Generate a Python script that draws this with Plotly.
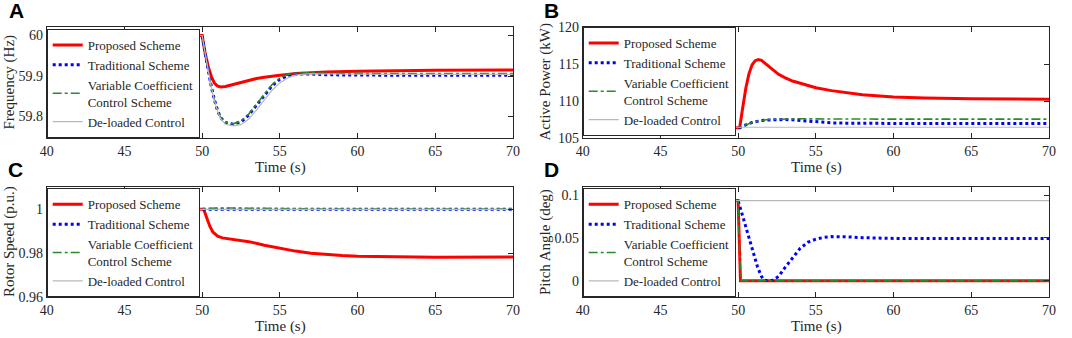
import plotly.graph_objects as go

# ---------------- data ----------------
names = ["Proposed Scheme", "Traditional Scheme", "Variable Coefficient<br>Control Scheme", "De-loaded Control"]

# Panel A: Frequency (Hz)
tA = [40, 50, 50.2, 50.4, 50.6, 50.8, 51, 51.2, 51.5, 52, 52.5, 53, 53.5, 54, 54.5, 55, 55.5, 56, 57, 58, 60, 62, 65, 70]
fA_prop = [60, 60, 59.955, 59.922, 59.898, 59.882, 59.875, 59.873, 59.874, 59.879, 59.885, 59.890, 59.894, 59.897, 59.900, 59.902, 59.904, 59.906, 59.908, 59.910, 59.912, 59.913, 59.914, 59.915]
fA_trad = [60, 60, 59.955, 59.912, 59.872, 59.840, 59.814, 59.797, 59.785, 59.781, 59.787, 59.804, 59.828, 59.854, 59.876, 59.892, 59.901, 59.905, 59.905, 59.903, 59.902, 59.902, 59.902, 59.902]
fA_vcc = [60, 60, 59.955, 59.912, 59.872, 59.840, 59.814, 59.797, 59.785, 59.782, 59.789, 59.806, 59.831, 59.857, 59.879, 59.895, 59.904, 59.907, 59.908, 59.907, 59.906, 59.906, 59.906, 59.906]
fA_del = [60, 60, 59.955, 59.911, 59.870, 59.838, 59.812, 59.794, 59.781, 59.777, 59.780, 59.794, 59.816, 59.841, 59.865, 59.883, 59.895, 59.902, 59.906, 59.905, 59.904, 59.904, 59.904, 59.904]

# Panel B: Active Power (kW)
tB = [40, 50.1, 50.3, 50.5, 50.7, 50.9, 51.1, 51.3, 51.5, 51.8, 52.2, 52.6, 53, 53.5, 54, 55, 56, 57, 58, 60, 62, 65, 70]
pB_prop = [106.4, 106.4, 109.2, 111.8, 113.7, 114.9, 115.45, 115.6, 115.5, 115.0, 114.3, 113.6, 113.15, 112.7, 112.4, 111.8, 111.4, 111.1, 110.85, 110.55, 110.4, 110.3, 110.25]
pB_trad = [106.4, 106.4, 106.6, 106.8, 106.95, 107.1, 107.2, 107.3, 107.35, 107.42, 107.47, 107.5, 107.5, 107.45, 107.35, 107.15, 107.05, 107.0, 106.98, 106.95, 106.95, 106.95, 106.95]
pB_vcc = [106.4, 106.4, 106.6, 106.8, 106.95, 107.1, 107.2, 107.3, 107.38, 107.46, 107.52, 107.56, 107.58, 107.6, 107.6, 107.58, 107.56, 107.55, 107.55, 107.55, 107.55, 107.55, 107.55]
pB_del = [106.45] * len(tB)

# Panel C: Rotor Speed (p.u.)
tC = [40, 50.1, 50.3, 50.5, 50.7, 51, 51.3, 51.7, 52, 52.5, 53, 54, 55, 56, 57, 58, 59, 60, 62, 65, 70]
wC_prop = [1, 1, 0.9960, 0.9922, 0.9896, 0.9878, 0.9870, 0.9866, 0.9864, 0.9860, 0.9853, 0.9837, 0.9822, 0.9810, 0.9800, 0.9794, 0.9790, 0.9787, 0.9784, 0.9782, 0.9783]
wC_trad = [1] * len(tC)
wC_vcc = [1, 1, 1.0002, 1.0004, 1.0005, 1.0006, 1.0006, 1.0006, 1.0006, 1.0006, 1.0005, 1.0004, 1.0003, 1.0002, 1.0001, 1.0001, 1.0001, 1.0001, 1.0001, 1.0001, 1.0001]
wC_del = [1] * len(tC)

# Panel D: Pitch Angle (deg)
tD_prop = [40, 50, 50.15, 70]
bD_prop = [0.0935, 0.0935, 0, 0]
tD_vcc = [40, 50, 50.1, 50.2, 70]
bD_vcc = [0.0935, 0.0935, 0.03, 0, 0]
tD_trad = [40, 50, 50.25, 50.5, 50.75, 51, 51.25, 51.5, 51.7, 52.2, 52.6, 53, 53.5, 54, 54.5, 55, 55.5, 56, 57, 58, 60, 65, 70]
bD_trad = [0.0935, 0.0935, 0.078, 0.062, 0.045, 0.030, 0.016, 0.005, 0.0003, 0.0003, 0.005, 0.015, 0.027, 0.038, 0.045, 0.0485, 0.0505, 0.0515, 0.0512, 0.0502, 0.0494, 0.0492, 0.0493]
tD_del = [40, 70]
bD_del = [0.0935, 0.0935]

# ---------------- style ----------------
colors = ["#ff0000", "#0000ff", "#2a8a2a", "#b8b8b8"]
dashes = ["solid", "dot", "dashdot", "solid"]
widths = [3, 3, 1.6, 1.2]
SERIF = "Liberation Serif, Times New Roman, serif"

fig = go.Figure()

panels = [
    ("x", "y", "legend", [(tA, fA_prop), (tA, fA_trad), (tA, fA_vcc), (tA, fA_del)]),
    ("x2", "y2", "legend2", [(tB, pB_prop), (tB, pB_trad), (tB, pB_vcc), (tB, pB_del)]),
    ("x3", "y3", "legend3", [(tC, wC_prop), (tC, wC_trad), (tC, wC_vcc), (tC, wC_del)]),
    ("x4", "y4", "legend4", [(tD_prop, bD_prop), (tD_trad, bD_trad), (tD_vcc, bD_vcc), (tD_del, bD_del)]),
]
for xa, ya, lg, series in panels:
    for i, (t, v) in enumerate(series):
        fig.add_trace(go.Scatter(
            x=t, y=v, mode="lines", name=names[i], xaxis=xa, yaxis=ya, legend=lg,
            line=dict(color=colors[i], dash=dashes[i], width=widths[i]),
        ))

xdomL = [46.7 / 1072, 513 / 1072]
xdomR = [582.7 / 1072, 1049 / 1072]
ydomT = [1 - 138 / 338, 1 - 27 / 338]
ydomB = [1 - 297.3 / 338, 1 - 187.3 / 338]

axis_common = dict(
    showline=True, linecolor="#262626", linewidth=1, mirror="ticks", automargin=False,
    ticks="inside", ticklen=5, tickcolor="#262626", showgrid=False, zeroline=False,
    tickfont=dict(family=SERIF, size=14, color="#262626"),
)
xticks = dict(range=[40, 70], tickvals=[40, 45, 50, 55, 60, 65, 70], **axis_common)

fig.update_layout(
    template="none",
    width=1072, height=338,
    margin=dict(l=0, r=0, t=0, b=0, pad=0), autosize=False,
    paper_bgcolor="white", plot_bgcolor="white",
    font=dict(family=SERIF, size=13, color="#262626"),
    xaxis=dict(domain=xdomL, anchor="y", **xticks),
    xaxis2=dict(domain=xdomR, anchor="y2", **xticks),
    xaxis3=dict(domain=xdomL, anchor="y3", **xticks),
    xaxis4=dict(domain=xdomR, anchor="y4", **xticks),
    yaxis=dict(domain=ydomT, anchor="x", range=[59.747, 60.021], tickvals=[59.8, 59.9, 60],
               ticktext=["59.8", "59.9", "60"], **axis_common),
    yaxis2=dict(domain=ydomT, anchor="x2", range=[105, 120], tickvals=[105, 110, 115, 120], **axis_common),
    yaxis3=dict(domain=ydomB, anchor="x3", range=[0.96, 1.01], tickvals=[0.96, 0.98, 1],
                ticktext=["0.96", "0.98", "1"], **axis_common),
    yaxis4=dict(domain=ydomB, anchor="x4", range=[-0.0193, 0.109], tickvals=[0, 0.05, 0.1],
                ticktext=["0", "0.05", "0.1"], **axis_common),
)

leg_common = dict(
    bgcolor="white", bordercolor="#262626", borderwidth=1,
    font=dict(family=SERIF, size=13, color="#262626"),
    tracegroupgap=0, itemwidth=30,
)
fig.update_layout(
    legend=dict(x=xdomL[0], y=ydomT[0], xanchor="left", yanchor="bottom", **leg_common),
    legend2=dict(x=xdomR[0], y=ydomT[1], xanchor="left", yanchor="top", **leg_common),
    legend3=dict(x=xdomL[0], y=ydomB[0], xanchor="left", yanchor="bottom", **leg_common),
    legend4=dict(x=xdomR[0], y=ydomB[0], xanchor="left", yanchor="bottom", **leg_common),
)

# axis titles and panel letters
ann = []
def px(xp, yp):
    return xp / 1072, 1 - yp / 338

for label, xc, yc in [("Frequency (Hz)", 9, 82.5), ("Active Power (kW)", 545, 82.5),
                      ("Rotor Speed (p.u.)", 9, 242), ("Pitch Angle (deg)", 545, 242)]:
    x, y = px(xc, yc)
    ann.append(dict(text=label, x=x, y=y, xref="paper", yref="paper", showarrow=False,
                    textangle=-90, font=dict(family=SERIF, size=15, color="#262626"),
                    xanchor="center", yanchor="middle"))
for xc, yc in [(280, 167), (816, 167), (280, 326), (816, 326)]:
    x, y = px(xc, yc)
    ann.append(dict(text="Time (s)", x=x, y=y, xref="paper", yref="paper", showarrow=False,
                    font=dict(family=SERIF, size=15, color="#262626"),
                    xanchor="center", yanchor="middle"))
for lab, xc, yc in [("A", 16, 10), ("B", 551, 10), ("C", 15, 169), ("D", 551, 169)]:
    x, y = px(xc, yc)
    ann.append(dict(text="<b>%s</b>" % lab, x=x, y=y, xref="paper", yref="paper", showarrow=False,
                    font=dict(family="Liberation Sans, Arial, sans-serif", size=21, color="black"),
                    xanchor="center", yanchor="middle"))
fig.update_layout(annotations=ann)

fig.write_html("out.html", config={"displayModeBar": False},
               post_script="document.body.style.margin='0';document.body.style.overflow='hidden';")
